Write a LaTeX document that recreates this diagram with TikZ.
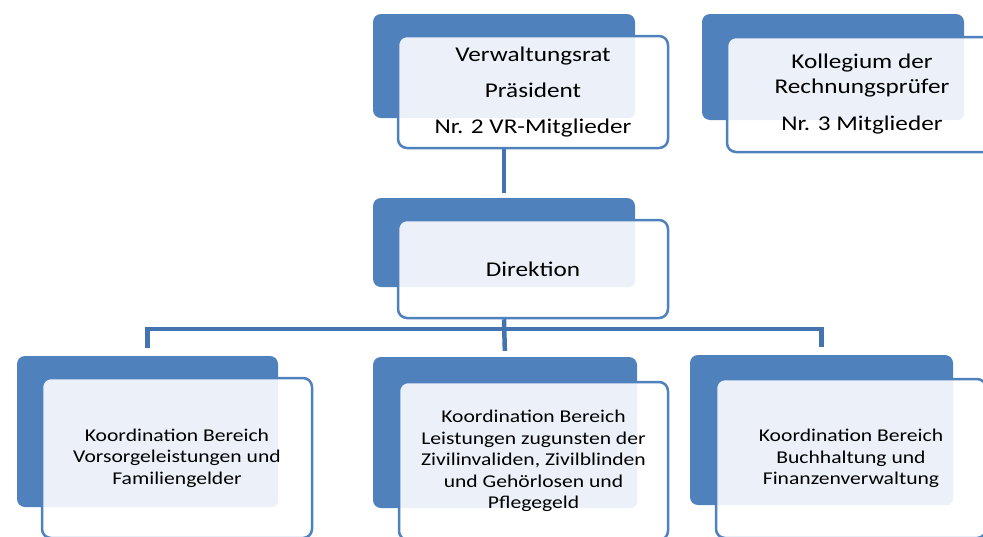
\documentclass[tikz,border=0pt]{standalone}
\usepackage{fontspec}
\setmainfont{Carlito}[FakeStretch=1.2]
\usetikzlibrary{positioning}
\usetikzlibrary{calc}
\definecolor{orgblue}{HTML}{4F81BD}
\definecolor{linkblue}{HTML}{4573AF}
\definecolor{panelblue}{HTML}{ECF0F8}
\tikzset{
backbox/.style={fill=orgblue,rounded corners=8pt,inner sep=0pt},
frontbox/.style={draw=orgblue,line width=2.5pt,fill=white,rounded corners=9pt,inner sep=0pt,align=center,
  path picture={\fill[panelblue,rounded corners=7pt] ([shift={(-20pt,20pt)}]path picture bounding box.north west) rectangle (#1.south east);}},
conn/.style={draw=linkblue,line width=4.5pt},
bigtext/.style={font=\fontsize{21}{25}\selectfont},
smalltext/.style={font=\fontsize{18}{21.5}\selectfont}
}

\begin{document}
\begin{tikzpicture}[x=1pt,y=-1pt]
\useasboundingbox (0,0) rectangle (983,536);
\clip (0,0) rectangle (983,536);
% oben
\node[backbox,minimum width=262pt,minimum height=104pt] (VRb) at (504,66) {};
\node[frontbox=VRb,bigtext,minimum width=270pt,minimum height=112pt] (VR) at (533,92) {Verwaltungsrat\\[11pt]Präsident\\[11pt]Nr. 2 VR-Mitglieder};
\node[backbox,minimum width=262pt,minimum height=106pt] (RPb) at (833,67) {};
\node[frontbox=RPb,bigtext,minimum width=270pt,minimum height=115pt] (RP) at (862,94.5) {Kollegium der\\Rechnungsprüfer\\[12pt]Nr. 3 Mitglieder};
% mitte
\node[backbox,minimum width=262pt,minimum height=89pt] (DIRb) at (504,242.5) {};
\node[frontbox=DIRb,bigtext,minimum width=270pt,minimum height=98pt] (DIR) at (533,269) {Direktion};
% unten
\node[backbox,minimum width=261pt,minimum height=151pt] (K1b) at (147.5,431.5) {};
\node[frontbox=K1b,smalltext,minimum width=270pt,minimum height=160pt] (K1) at (177,458) {Koordination Bereich\\Vorsorgeleistungen und\\Familiengelder};
\node[backbox,minimum width=264pt,minimum height=151pt] (K2b) at (505,432.5) {};
\node[frontbox=K2b,smalltext,minimum width=269pt,minimum height=158pt] (K2) at (533.5,461) {Koordination Bereich\\Leistungen zugunsten der\\Zivilinvaliden, Zivilblinden\\und Gehörlosen und\\Pflegegeld};
\node[backbox,minimum width=263pt,minimum height=150pt] (K3b) at (821.5,430) {};
\node[frontbox=K3b,smalltext,minimum width=270pt,minimum height=159pt] (K3) at (851,458.5) {Koordination Bereich\\Buchhaltung und\\Finanzenverwaltung};
% linien
\coordinate (bus) at (504,329);
\draw[conn,shorten >=5pt] (VRb |- VR.south) -- (DIRb.north);
\draw[conn,shorten >=6pt] (DIRb |- DIR.south) -- (K2b.north);
\draw[conn,shorten <=8pt,shorten >=8pt] (K1b.north) -- (K1b |- bus) -- (K3b |- bus) -- (K3b.north);
\end{tikzpicture}
\end{document}
